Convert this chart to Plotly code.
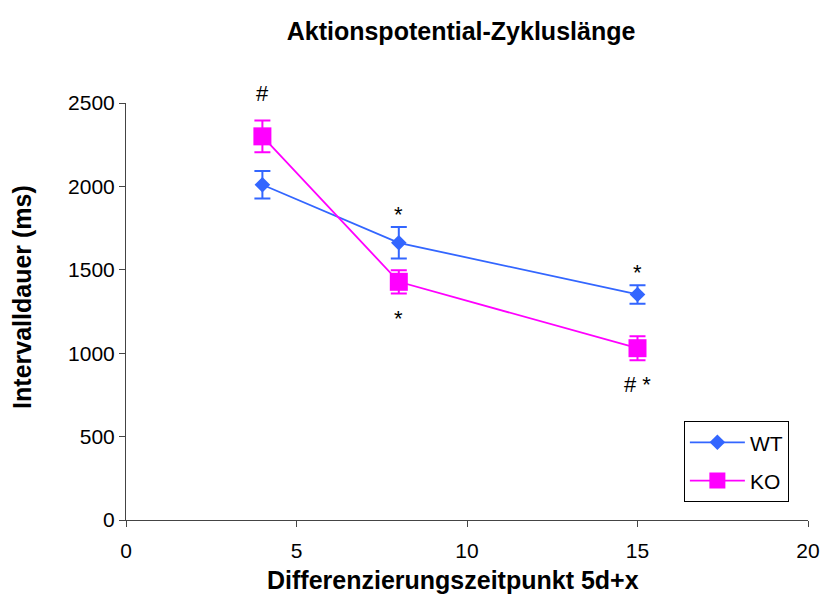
import plotly.graph_objects as go

x_days = [4, 8, 15]
wt_values = [2010, 1662, 1352]
wt_err = [83, 95, 55]
ko_values = [2300, 1428, 1030]
ko_err = [95, 70, 72]

ann_x = [4, 8, 8, 15, 15]
ann_y = [2555, 1830, 1210, 1485, 810]
ann_text = ["#", "*", "*", "*", "# *"]

Y_MAX = 2500
FONT = "Liberation Sans, Arial, sans-serif"

fig = go.Figure()
fig.add_trace(go.Scatter(
    x=x_days, y=wt_values, name="WT", mode="lines+markers", legendgroup="wt",
    line=dict(color="#3366FF", width=1.8),
    marker=dict(symbol="diamond", size=12, color="#3366FF"),
    error_y=dict(type="data", array=wt_err, visible=True, color="#3366FF", thickness=2, width=8),
))
fig.add_trace(go.Scatter(
    x=x_days, y=ko_values, name="KO", mode="lines+markers", legendgroup="ko",
    line=dict(color="#FF00FF", width=1.8),
    marker=dict(symbol="square", size=18, color="#FF00FF"),
    error_y=dict(type="data", array=ko_err, visible=True, color="#FF00FF", thickness=2, width=8),
))

for xa, ya, t in zip(ann_x, ann_y, ann_text):
    if ya > Y_MAX:
        fig.add_annotation(x=xa, y=ya / Y_MAX, yref="paper", text=t, showarrow=False,
                           xanchor="center", yanchor="middle",
                           font=dict(family=FONT, size=22, color="black"))
    else:
        fig.add_annotation(x=xa, y=ya, text=t, showarrow=False,
                           xanchor="center", yanchor="middle",
                           font=dict(family=FONT, size=22, color="black"))

# axis titles as annotations for exact placement
fig.add_annotation(x=0.480, y=-0.144, xref="paper", yref="paper",
                   xanchor="center", yanchor="middle",
                   text="<b>Differenzierungszeitpunkt 5d+x</b>", showarrow=False,
                   font=dict(family=FONT, size=25, color="black"))
fig.add_annotation(x=-0.1525, y=0.535, xref="paper", yref="paper", textangle=-90,
                   xanchor="center", yanchor="middle",
                   text="<b>Intervalldauer (ms)</b>", showarrow=False,
                   font=dict(family=FONT, size=25, color="black"))

fig.update_layout(
    width=824, height=611,
    paper_bgcolor="white", plot_bgcolor="white",
    margin=dict(l=126, r=16, t=103, b=91, autoexpand=False),
    title=dict(text="<b>Aktionspotential-Zykluslänge</b>", x=0.5595, xanchor="center",
               y=0.949, yanchor="middle",
               font=dict(family=FONT, size=25, color="black")),
    font=dict(family=FONT, size=21, color="black"),
    xaxis=dict(range=[0, 20], tickvals=[0, 5, 10, 15, 20], showgrid=False, zeroline=False,
               showline=True, linecolor="#444444", linewidth=1, automargin=False,
               ticks="outside", ticklen=6, tickcolor="#444444", ticklabelstandoff=6,
               tickfont=dict(family=FONT, size=21)),
    yaxis=dict(range=[0, Y_MAX], tickvals=[0, 500, 1000, 1500, 2000, 2500], showgrid=False,
               zeroline=False, showline=True, linecolor="#444444", linewidth=1, automargin=False,
               ticks="outside", ticklen=6, tickcolor="#444444",
               tickfont=dict(family=FONT, size=21)),
    legend=dict(x=0.818, y=0.237, xanchor="left", yanchor="top",
                bgcolor="white", bordercolor="black", borderwidth=1,
                font=dict(family=FONT, size=21), itemwidth=55, tracegroupgap=8),
    showlegend=True,
)

fig.write_html("out.html")
